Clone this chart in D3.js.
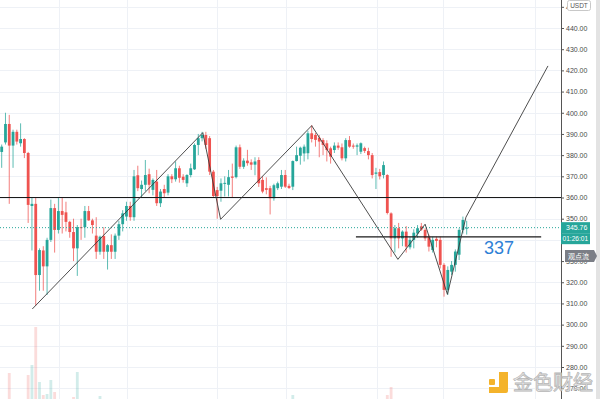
<!DOCTYPE html>
<html>
<head>
<meta charset="utf-8">
<script src="https://cdn.jsdelivr.net/npm/d3@7"></script>
<style>
  html, body { margin: 0; padding: 0; background: #fff; }
  #chart { width: 600px; height: 399px; overflow: hidden; }
</style>
</head>
<body>
<div id="chart"></div>
<script>
const WIDTH = 600
const HEIGHT = 399
const UP_COLOR = '#26a69a'
const DOWN_COLOR = '#ef5350'
const GRID_COLOR = '#eef1f6'
const AXIS_X = 561
const BODY_WIDTH = 2.8
const LABEL_FONT = '"Liberation Sans", Arial, sans-serif'
const CJK_FONT = '"Noto Sans CJK SC", sans-serif'

// ===================== DATA =====================
const opens = [
  381.5, 386, 394.7, 384.5, 391, 385.6, 387.6, 381, 356, 357,
  323.4, 335, 327.5, 340, 355, 344.7, 353.6, 353, 348.5, 343.7,
  336, 346, 346, 353.6, 349.2, 342, 334.4, 341.8, 334.4, 337.5,
  334.4, 342, 347.4, 351, 356, 350.7, 370.5, 364, 366, 371,
  363.6, 367.5, 357.3, 364, 362.3, 370, 368.6, 373.8, 369.8, 366.7,
  370.6, 373.3, 384.8, 388, 389.5, 388, 372.2, 363.5, 363.2, 366.5,
  366, 369.9, 369.6, 383.7, 374.5, 377.4, 376.6, 375.5, 377.7, 368.3,
  364.4, 364.4, 359.6, 364.4, 365.1, 370.6, 365.5, 365.1, 377.2, 379.7,
  380.8, 380.9, 390.3, 389.5, 388.2, 387.1, 385.6, 383.2, 382.4, 384.5,
  383.7, 378.5, 387.1, 384.5, 384, 381.6, 383.3, 381.9, 380, 371.2,
  372, 370.6, 370.6, 352.5, 340.7, 345.5, 340.7, 343.9, 336.5, 340,
  343, 346.4, 344.7, 341.6, 335.2, 340.5, 340, 328.2, 316.4, 325,
  328.2, 333, 344.7, 345.3
]
const highs = [
  385, 400, 399, 392, 392, 395, 388, 381.5, 360, 360,
  336, 337, 341, 359, 357, 360, 360, 358, 349, 350,
  347, 350, 356, 356, 350, 350.7, 342, 346, 338, 342.6,
  343, 349, 354, 358, 358, 373, 375, 368, 377.7, 373.6,
  369, 373, 364, 366, 371, 371, 377, 375, 371, 371,
  376, 385.5, 390, 391, 391, 389, 373, 365, 369, 370,
  373, 376, 384.5, 385, 378.5, 382.5, 378, 379, 379, 370,
  369.5, 365.5, 366.5, 367.5, 373, 373, 366.5, 377.5, 384, 384,
  385, 391.5, 394.2, 390.5, 389.5, 388, 387, 384, 386, 386,
  385.5, 388, 389, 385.5, 385.5, 386, 384, 383.5, 381, 374,
  373.5, 377, 371, 353, 347, 348, 344.5, 346.5, 341.5, 345,
  347, 348, 345.5, 342.5, 341.5, 341.5, 341.5, 329, 327.5, 330,
  335.5, 345.5, 351, 349
]
const lows = [
  374, 385, 357, 374, 385, 384, 378.6, 348, 335, 309,
  316, 316, 314, 339, 334, 343, 343, 344, 341, 330,
  323, 340, 341, 349, 343, 331, 333, 331, 326, 331,
  331, 340, 344, 349, 349, 349, 363, 360, 363, 362,
  361, 356, 355.5, 360, 361, 366.8, 367.5, 367, 367, 365,
  369.5, 373, 380, 386.5, 383, 370.6, 360, 350, 358, 360.5,
  360.5, 360, 369, 373.5, 373.5, 375, 373, 370.5, 365, 362,
  361.5, 352, 358.5, 363.5, 364, 364.5, 364, 363.5, 377, 375.5,
  377, 378, 386, 384, 379, 380, 377, 376, 381, 382.5,
  377.5, 377, 383.5, 383, 380, 380.5, 381, 378, 369, 364,
  368.5, 369, 352, 332, 334, 336, 337, 334, 335.5, 336,
  341, 344.3, 339.5, 334.5, 334, 336.5, 326.5, 313.2, 314, 323.4,
  325, 330.5, 343, 342.5
]
const closes = [
  384, 394.7, 384.5, 391, 386.4, 387.6, 381, 356.5, 357, 323.4,
  335.2, 327.5, 340, 355, 344.7, 353.6, 351.8, 348.5, 343.7, 336,
  346, 345.6, 353.6, 349.2, 347, 334.4, 341.5, 334.4, 337.5, 334.4,
  342, 347.4, 352.5, 356, 350.7, 370, 364.4, 366, 370.6, 366,
  368.3, 357.3, 362.8, 362, 370, 368.6, 373.8, 369.3, 368.3, 370.6,
  373.8, 384.8, 388, 389.5, 384.8, 372.2, 360.7, 360.7, 366.7, 366.9,
  369.6, 369.3, 383.7, 374.5, 377.4, 376.2, 375.5, 377, 366.7, 362.8,
  363.6, 359.6, 365.8, 366.7, 370.6, 365.1, 364.5, 377.2, 380, 383.5,
  384, 390.3, 387.6, 387.2, 386.4, 384.8, 382.4, 379.3, 384.5, 383.5,
  378.5, 387.1, 384, 384, 384.6, 385.6, 382, 380, 370.6, 371.8,
  370, 375.3, 352.7, 340.7, 345.5, 340.7, 343.9, 336.8, 340, 343.4,
  345.5, 344.9, 340.7, 336.8, 340, 339.5, 328.2, 316.4, 325.8, 328.2,
  334.5, 344.7, 349.4, 345.76
]
const volumes = [
  6, 8, 37, 9, 5, 7, 6, 35, 45, 83,
  28, 15, 16, 30, 18, 9, 7, 6, 8, 13,
  38, 7, 9, 5, 6, 8, 14, 7, 6, 5,
  7, 8, 9, 6, 5, 10, 8, 6, 7, 5,
  6, 8, 5, 4, 6, 4, 5, 4, 4, 5,
  4, 7, 6, 4, 5, 6, 9, 8, 6, 5,
  4, 5, 4, 7, 6, 5, 4, 4, 5, 6,
  4, 5, 6, 4, 5, 4, 5, 15, 6, 5,
  7, 4, 8, 5, 6, 4, 5, 4, 5, 6,
  4, 5, 6, 4, 4, 5, 4, 5, 6, 5,
  4, 9, 15, 23, 8, 6, 5, 7, 6, 4,
  5, 4, 5, 6, 5, 6, 9, 10, 7, 6,
  8, 9, 8, 5
]
// 340.00 sits under the countdown box, so it is not listed
const priceTicks = [270, 280, 290, 300, 310, 320, 330, 350, 360, 370, 380, 390, 400, 410, 420, 430, 440, 450]
const gridPrices = [270, 280, 290, 300, 310, 320, 330, 340, 350, 360, 370, 380, 390, 400, 410, 420, 430, 440, 450]
// candle index of the time grid lines
const timeGrid = [15.2, 33.1, 57, 75.2, 99.3, 116.7, 141]
// hand drawn zigzag (candle index, price)
const zigzagIndex = [8.1, 53.2, 57.9, 82, 104.8, 112, 117.9, 122.8, 144.5]
const zigzagPrice = [307.4, 390.6, 349.7, 393.9, 330.8, 347.4, 314.3, 350.7, 422.1]
const resistancePrice = 360
const supportPrice = 341.4
const supportRange = [93.7, 142.7]
const lastPrice = 345.76
const countdown = '01:26:01'
const targetText = '337'
const targetPos = [127.6, 333.3]

// ===================== SETUP =====================
var svg = d3.select('#chart').append('svg')
  .attr('width', WIDTH)
  .attr('height', HEIGHT)
  .style('display', 'block')

var xScale = d3.scaleLinear()
  .domain([0, opens.length - 1])
  .range([1.7, 466.7])
var yScale = d3.scaleLinear()
  .domain([280, 440])
  .range([367, 28])
var volScale = d3.scaleLinear()
  .domain([0, 83])
  .range([410, 327])

// Grid
var grid = svg.append('g').attr('id', 'grid')
grid.selectAll('.hgrid')
  .data(gridPrices)
  .enter().append('line')
  .attr('x1', 0)
  .attr('x2', AXIS_X)
  .attr('y1', d => Math.round(yScale(d)) + 0.5)
  .attr('y2', d => Math.round(yScale(d)) + 0.5)
  .attr('stroke', GRID_COLOR)
grid.selectAll('.vgrid')
  .data(timeGrid)
  .enter().append('line')
  .attr('x1', d => Math.round(xScale(d)) + 0.5)
  .attr('x2', d => Math.round(xScale(d)) + 0.5)
  .attr('y1', 0)
  .attr('y2', HEIGHT)
  .attr('stroke', GRID_COLOR)

// Volume
var vol = svg.append('g').attr('id', 'volume').attr('opacity', 0.2)
vol.selectAll('rect')
  .data(volumes)
  .enter().append('rect')
  .attr('x', (d, i) => xScale(i) - BODY_WIDTH / 2)
  .attr('width', BODY_WIDTH)
  .attr('y', d => volScale(d))
  .attr('height', d => volScale(0) - volScale(d))
  .attr('fill', (d, i) => closes[i] >= opens[i] ? UP_COLOR : DOWN_COLOR)

// Candles
var candles = svg.append('g').attr('id', 'candles')
for (let i = 0; i < opens.length; i++) {
  const color = closes[i] >= opens[i] ? UP_COLOR : DOWN_COLOR
  const cx = xScale(i)
  candles.append('line')
    .attr('x1', cx).attr('x2', cx)
    .attr('y1', yScale(highs[i]))
    .attr('y2', yScale(lows[i]))
    .attr('stroke', color)
    .attr('stroke-opacity', 0.75)
    .attr('stroke-width', 1)
  const top = yScale(Math.max(opens[i], closes[i]))
  const bottom = yScale(Math.min(opens[i], closes[i]))
  candles.append('rect')
    .attr('x', cx - BODY_WIDTH / 2)
    .attr('width', BODY_WIDTH)
    .attr('y', top)
    .attr('height', Math.max(1, bottom - top))
    .attr('fill', color)
}

// Last price dotted line
svg.append('line')
  .attr('x1', 0).attr('x2', AXIS_X)
  .attr('y1', yScale(lastPrice)).attr('y2', yScale(lastPrice))
  .attr('stroke', UP_COLOR)
  .attr('stroke-width', 1)
  .attr('stroke-dasharray', '1,2')

// Drawings
svg.append('line')
  .attr('x1', 0).attr('x2', AXIS_X)
  .attr('y1', yScale(resistancePrice)).attr('y2', yScale(resistancePrice))
  .attr('stroke', '#1a1a1a')
  .attr('stroke-width', 1.2)
svg.append('line')
  .attr('x1', xScale(supportRange[0])).attr('x2', xScale(supportRange[1]))
  .attr('y1', yScale(supportPrice)).attr('y2', yScale(supportPrice))
  .attr('stroke', '#1a1a1a')
  .attr('stroke-width', 1.1)

var zigzag = d3.line()
  .x(d => xScale(d[0]))
  .y(d => yScale(d[1]))
svg.append('path')
  .attr('d', zigzag(d3.zip(zigzagIndex, zigzagPrice)))
  .attr('fill', 'none')
  .attr('stroke', '#3a3a3a')
  .attr('stroke-width', 0.9)

svg.append('text')
  .attr('x', xScale(targetPos[0]))
  .attr('y', yScale(targetPos[1]))
  .text(targetText)
  .attr('fill', '#2e80d6')
  .style('font-family', LABEL_FONT)
  .style('font-size', '18px')

// Price axis
var axis = svg.append('g')
  .attr('transform', 'translate(' + AXIS_X + ',0)')
  .call(d3.axisRight(yScale)
    .tickValues(priceTicks)
    .tickFormat(d3.format('.2f'))
    .tickSize(3)
    .tickPadding(2))
axis.select('.domain').remove()
axis.selectAll('.tick line').attr('stroke', '#555')
axis.selectAll('.tick text')
  .attr('fill', '#4a4a4a')
  .style('font-family', LABEL_FONT)
  .style('font-size', '7px')
svg.append('line')
  .attr('x1', AXIS_X + 0.5).attr('x2', AXIS_X + 0.5)
  .attr('y1', 0).attr('y2', HEIGHT)
  .attr('stroke', '#555')
svg.append('rect')
  .attr('x', 596).attr('y', 0)
  .attr('width', 4).attr('height', HEIGHT)
  .attr('fill', '#e3e3e3')

// Axis labels
var ly = yScale(lastPrice)
svg.append('rect')
  .attr('x', AXIS_X).attr('y', ly - 5.5)
  .attr('width', 29).attr('height', 11)
  .attr('fill', UP_COLOR)
svg.append('text')
  .attr('x', AXIS_X + 5).attr('y', ly + 2.5)
  .text(d3.format('.2f')(lastPrice))
  .attr('fill', '#fff')
  .style('font-family', LABEL_FONT)
  .style('font-size', '7px')
svg.append('rect')
  .attr('x', AXIS_X).attr('y', ly + 5.5)
  .attr('width', 29).attr('height', 11)
  .attr('fill', UP_COLOR)
svg.append('text')
  .attr('x', AXIS_X + 1.5).attr('y', ly + 13.5)
  .text(countdown)
  .attr('fill', '#fff')
  .style('font-family', LABEL_FONT)
  .style('font-size', '6.6px')

svg.append('path')
  .attr('d', 'M565,250 h29 l3,6 l-3,6 h-29 z')
  .attr('fill', '#7b7e86')
svg.append('text')
  .attr('x', 568).attr('y', 259)
  .text('观点流')
  .attr('fill', '#fff')
  .style('font-family', CJK_FONT)
  .style('font-size', '7px')

svg.append('rect')
  .attr('x', 567.5).attr('y', 0.5)
  .attr('width', 23).attr('height', 10)
  .attr('rx', 2)
  .attr('fill', '#fff')
  .attr('stroke', '#c8c8c8')
svg.append('text')
  .attr('x', 579).attr('y', 8)
  .attr('text-anchor', 'middle')
  .text('USDT')
  .attr('fill', '#555')
  .style('font-family', LABEL_FONT)
  .style('font-size', '6.5px')

// Watermark
var mark = svg.append('g').attr('id', 'watermark')
mark.append('rect')
  .attr('x', 489).attr('y', 379)
  .attr('width', 6).attr('height', 6)
  .attr('rx', 1)
  .attr('fill', '#f4b32b')
mark.append('path')
  .attr('d', 'M499,372 h9 v19 q0,2 -2,2 h-17 v-6 h10 z')
  .attr('fill', '#f4b32b')
mark.append('text')
  .attr('x', 513).attr('y', 390)
  .text('金色财经')
  .attr('fill', '#f3f3f3')
  .attr('stroke', '#b5b5b5')
  .attr('stroke-width', 0.8)
  .style('font-family', CJK_FONT)
  .style('font-size', '20px')
</script>
</body>
</html>
